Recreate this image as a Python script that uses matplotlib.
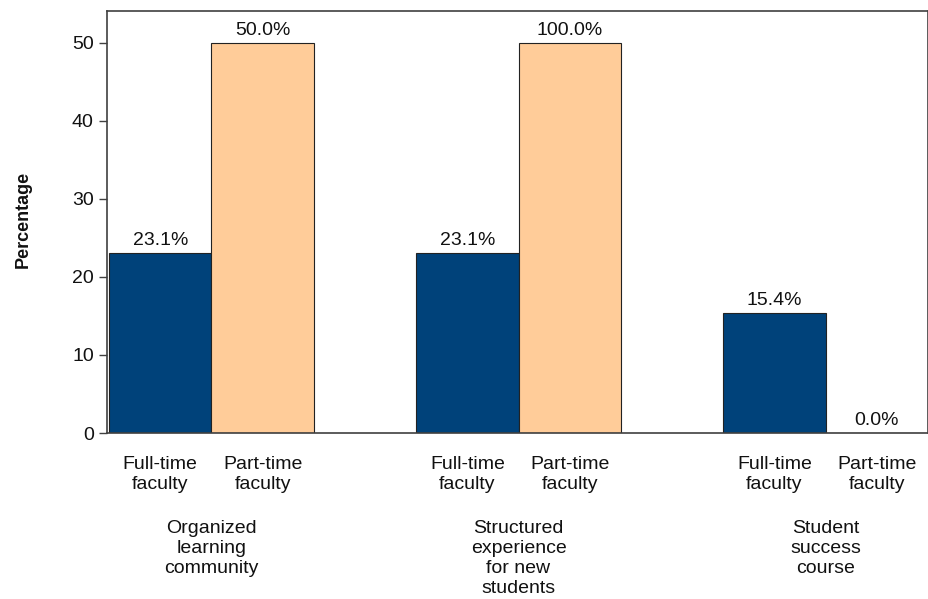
import matplotlib
matplotlib.use("Agg")
import matplotlib.pyplot as plt
import numpy as np

plt.rcParams['font.family'] = ['Liberation Sans', 'DejaVu Sans']

groups = ["Organized\nlearning\ncommunity", "Structured\nexperience\nfor new\nstudents", "Student\nsuccess\ncourse"]
series = ["Full-time\nfaculty", "Part-time\nfaculty"]
full_time = [23.1, 23.1, 15.4]
part_time = [50.0, 100.0, 0.0]
yticks = [0, 10, 20, 30, 40, 50]

colors = ["#00427A", "#FFCC99"]
axis_max = 50
FS = 14

fig = plt.figure(figsize=(9.29, 5.99), dpi=100)
ax = fig.add_axes([107/929, 1 - 433/599, (928-107)/929, (433-11)/599])

centers = np.array([1.0, 4.0, 7.0])
width = 1.0
x_ft = centers - width/2
x_pt = centers + width/2

for xs, vals, c in [(x_ft, full_time, colors[0]), (x_pt, part_time, colors[1])]:
    shown = [min(v, axis_max) for v in vals]
    ax.bar(xs, shown, width=width, color=c, edgecolor="#222222", linewidth=0.8)
    for x, v, s in zip(xs, vals, shown):
        ax.text(x, s + 0.5, f"{v:.1f}%", ha="center", va="bottom", fontsize=FS, color="#111111")

ax.set_xlim(-0.02, 8.0)
ax.set_ylim(0, 54.1)
ax.set_yticks(yticks)
ax.tick_params(axis="y", direction="out", length=6, width=1, colors="#404040", labelsize=FS, labelcolor="#111111", pad=3.5)
ax.tick_params(axis="x", bottom=False, labelbottom=False)
for s in ax.spines.values():
    s.set_color("#404040")
    s.set_linewidth(1.2)

for i, c in enumerate(centers):
    for xs, lab in zip((x_ft, x_pt), series):
        ax.text(xs[i], -2.95, lab, ha="center", va="top", fontsize=FS, color="#111111",
                linespacing=1.2, clip_on=False)
    ax.text(c, -11.1, groups[i], ha="center", va="top", fontsize=FS, color="#111111",
            linespacing=1.24, clip_on=False)

fig.text(23/929, 1 - 219/599, "Percentage", rotation=90, ha="center", va="center",
         fontsize=13, fontweight="bold", color="#111111")

fig.savefig("out.png", dpi=100)
